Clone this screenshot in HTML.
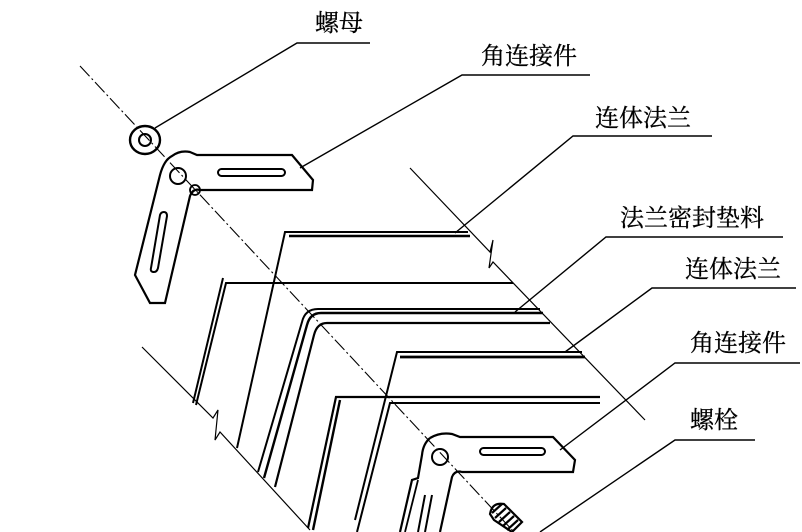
<!DOCTYPE html>
<html><head><meta charset="utf-8"><style>
html,body{margin:0;padding:0;background:#fff;}
svg{display:block}
text{font-family:"Liberation Serif","Noto Serif CJK SC",serif;font-size:24px;fill:#000;stroke:#000;stroke-width:0.3}
</style></head><body>
<svg width="802" height="532" viewBox="0 0 802 532" xmlns="http://www.w3.org/2000/svg">
<g fill="none" stroke="#000" stroke-width="1.4">
<path d="M80,66 L514,532" stroke-dasharray="14,3,2,3" stroke-width="1.1"/>
<path d="M410,168 L490,252 L493,240 L489,268 L493,262 L645,420" stroke-width="1.2"/>
<path d="M142,347 L213,418 L218,410 L215,440 L220,432 L310,530" stroke-width="1.2"/>

<path d="M370,43 L297,43 L155,128"/>
<path d="M590,75 L462,75 L300,168"/>
<path d="M712,136 L573,136 L455,233"/>
<path d="M783,237 L606,237 L515,312"/>
<path d="M796,288 L652,288 L565,352"/>
<path d="M800,363 L675,363 L560,450"/>
<path d="M755,440 L675,440 L540,532"/>

<path d="M468,232 L285,232 L237,448" stroke-width="2"/>
<path d="M470,236 L289,236" stroke-width="2.4"/>
<path d="M513,283 L226,283 L196,405" stroke-width="2"/>
<path d="M223,278 L193,403" stroke-width="2"/>
<path d="M540,309 L318,309 Q305,309 302,322 L258,472" stroke-width="2"/>
<path d="M543,313 L321,313 Q310,313 307,325 L264,478" stroke-width="2.4"/>
<path d="M550,323 L327,323 Q317,323 314,335 L275,487" stroke-width="2.2"/>
<path d="M582,352 L397,352 L355,520" stroke-width="2"/>
<path d="M585,357 L400,357" stroke-width="2.8"/>
<path d="M600,397 L336,397 L308,528" stroke-width="2.2"/>
<path d="M340,400 L313,530" stroke-width="2.4"/>
<path d="M600,403 L390,403 L357,532" stroke-width="2"/>

<ellipse cx="145" cy="140" rx="15" ry="14" stroke-width="2.4"/>
<ellipse cx="145" cy="140" rx="6" ry="6" stroke-width="2"/>
<path d="M172,156 Q180,150 190,152 L197,155 L292,155 L313,180 L312,190 L200,190 Q193,188 190,196 L165,303 L150,303 L135,275 L160,175 Q164,160 172,156 Z" stroke-width="2.2"/>
<rect x="218" y="169" width="67" height="7" rx="3.5" stroke-width="2"/>
<path d="M160,215 L151,268 Q150,272 154,272 Q157,272 158,268 L167,216 Q167,212 164,212 Q161,212 160,215 Z" stroke-width="2"/>
<circle cx="178" cy="176" r="8" stroke-width="2"/>
<circle cx="195" cy="190" r="5" stroke-width="1.8"/>

<path d="M430,438 Q440,432 452,434 L460,437 L553,437 L575,460 L573,472 L462,472 Q455,470 452,477 L440,532" stroke-width="2.2"/>
<path d="M430,438 Q423,444 422,455 L418,478 L412,480 L400,532" stroke-width="2.2"/>
<path d="M418,480 L405,532" stroke-width="1.8"/>
<rect x="480" y="448" width="65" height="7" rx="3.5" stroke-width="2"/>
<path d="M425,495 L418,532 M432,495 L425,532" stroke-width="2"/>
<circle cx="440" cy="457" r="8" stroke-width="2"/>
<g stroke-width="2.2">
<path d="M492,513 L502,504 M495,518 L506,508 M499,522 L510,512 M503,526 L514,516 M507,530 L518,520"/>
<path d="M490,514 Q492,502 504,504 L522,522 L512,532 L494,520 Z"/>
</g>
</g>
<text x="315" y="31">螺母</text>
<text x="481" y="64">角连接件</text>
<text x="595" y="126">连体法兰</text>
<text x="620" y="226">法兰密封垫料</text>
<text x="685" y="277">连体法兰</text>
<text x="690" y="351">角连接件</text>
<text x="690" y="428">螺栓</text>
</svg>
</body></html>
